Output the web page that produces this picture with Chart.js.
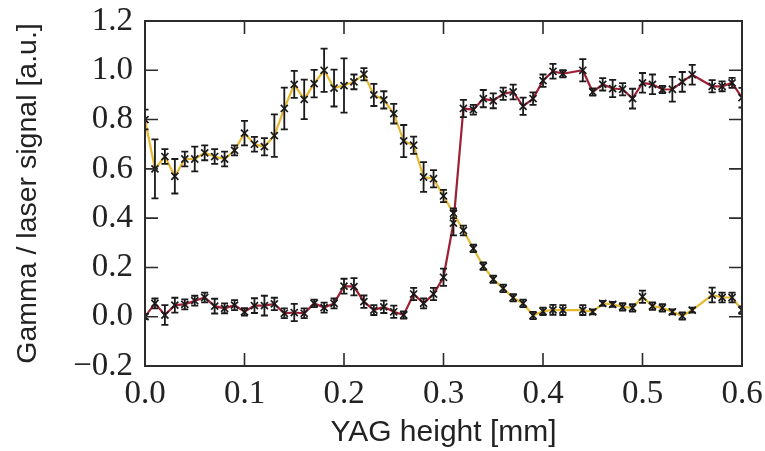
<!DOCTYPE html>
<html>
<head>
<meta charset="utf-8">
<script src="https://cdn.jsdelivr.net/npm/chart.js@4.4.1/dist/chart.umd.min.js"></script>
<style>
    html, body { margin: 0; padding: 0; background: #fff; }
    #chart { display: block; }
</style>
</head>
<body>
<canvas id="chart" width="765" height="451"></canvas>
<script>
// YAG height [mm] (0.43 and 0.56 are missing in the scan)
const heights = [
    0.00, 0.01, 0.02, 0.03, 0.04, 0.05, 0.06, 0.07, 0.08, 0.09,
    0.10, 0.11, 0.12, 0.13, 0.14, 0.15, 0.16, 0.17, 0.18, 0.19,
    0.20, 0.21, 0.22, 0.23, 0.24, 0.25, 0.26, 0.27, 0.28, 0.29,
    0.30, 0.31, 0.32, 0.33, 0.34, 0.35, 0.36, 0.37, 0.38, 0.39,
    0.40, 0.41, 0.42, 0.44, 0.45, 0.46, 0.47, 0.48, 0.49,
    0.50, 0.51, 0.52, 0.53, 0.54, 0.55, 0.57, 0.58, 0.59, 0.60
];

// yellow curve: falls off around 0.3 mm
const laserSignal = [
    0.80, 0.60, 0.65, 0.57, 0.64, 0.64, 0.665, 0.65, 0.64, 0.675,
    0.745, 0.70, 0.69, 0.735, 0.845, 0.943, 0.882, 0.946, 1.00, 0.928,
    0.938, 0.953, 0.984, 0.90, 0.88, 0.824, 0.713, 0.696, 0.567, 0.56,
    0.49, 0.42, 0.35, 0.277, 0.205, 0.152, 0.115, 0.077, 0.054, 0.005,
    0.022, 0.028, 0.027, 0.027, 0.02, 0.054, 0.05, 0.04, 0.036,
    0.081, 0.043, 0.036, 0.02, 0.003, 0.027, 0.088, 0.078, 0.078, 0.027
];
const laserError = [
    0.04, 0.12, 0.03, 0.07, 0.03, 0.05, 0.03, 0.03, 0.03, 0.02,
    0.05, 0.03, 0.035, 0.086, 0.085, 0.055, 0.08, 0.056, 0.088, 0.075,
    0.11, 0.03, 0.025, 0.045, 0.035, 0.04, 0.065, 0.035, 0.06, 0.035,
    0.025, 0.02, 0.02, 0.015, 0.015, 0.015, 0.015, 0.015, 0.015, 0.015,
    0.015, 0.02, 0.02, 0.02, 0.01, 0.01, 0.01, 0.015, 0.015,
    0.025, 0.015, 0.015, 0.01, 0.015, 0.01, 0.03, 0.02, 0.02, 0.015
];

// red curve: rises around 0.31 mm
const gammaSignal = [
    0.00, 0.054, 0.007, 0.047, 0.05, 0.065, 0.078, 0.043, 0.034, 0.047,
    0.02, 0.045, 0.045, 0.052, 0.014, 0.017, 0.014, 0.054, 0.037, 0.054,
    0.124, 0.122, 0.061, 0.027, 0.04, 0.02, 0.007, 0.092, 0.054, 0.092,
    0.16, 0.38, 0.845, 0.84, 0.885, 0.876, 0.905, 0.912, 0.854, 0.885,
    0.958, 0.996, 0.986, 1.00, 0.912, 0.943, 0.926, 0.923, 0.885,
    0.949, 0.943, 0.922, 0.923, 0.953, 0.982, 0.935, 0.935, 0.949, 0.889
];
const gammaError = [
    0.01, 0.02, 0.04, 0.03, 0.02, 0.02, 0.02, 0.03, 0.02, 0.02,
    0.015, 0.03, 0.04, 0.025, 0.02, 0.035, 0.02, 0.015, 0.02, 0.02,
    0.03, 0.035, 0.025, 0.02, 0.025, 0.025, 0.015, 0.025, 0.02, 0.025,
    0.035, 0.05, 0.035, 0.02, 0.035, 0.03, 0.025, 0.03, 0.035, 0.025,
    0.025, 0.03, 0.015, 0.045, 0.015, 0.025, 0.035, 0.025, 0.04,
    0.04, 0.04, 0.015, 0.05, 0.04, 0.04, 0.025, 0.02, 0.02, 0.04
];

const frameColor = '#2b2b2b';
const tickLen = 13;

function toPoints(ys) {
    return heights.map((h, i) => ({x: h, y: ys[i]}));
}

// vertical error bars with caps, placed through the y scale
const errorBars = {
    id: 'errorBars',
    afterDatasetsDraw(chart) {
        const ctx = chart.ctx;
        const area = chart.chartArea;
        const yScale = chart.scales.y;
        ctx.save();
        ctx.beginPath();
        ctx.rect(area.left, area.top, area.right - area.left, area.bottom - area.top);
        ctx.clip();
        ctx.strokeStyle = '#1a1a1a';
        ctx.lineWidth = 1.8;
        chart.data.datasets.forEach(function (ds, i) {
            const meta = chart.getDatasetMeta(i);
            meta.data.forEach(function (pt, j) {
                const v = ds.data[j].y;
                const e = ds.errors[j];
                const top = yScale.getPixelForValue(v + e);
                const bot = yScale.getPixelForValue(v - e);
                ctx.beginPath();
                ctx.moveTo(pt.x, top);
                ctx.lineTo(pt.x, bot);
                ctx.moveTo(pt.x - 3.5, top);
                ctx.lineTo(pt.x + 3.5, top);
                ctx.moveTo(pt.x - 3.5, bot);
                ctx.lineTo(pt.x + 3.5, bot);
                ctx.stroke();
            });
        });
        ctx.restore();
    }
};

// box around the axes with inward ticks on all four sides
const axesFrame = {
    id: 'axesFrame',
    afterDraw(chart) {
        const ctx = chart.ctx;
        const a = chart.chartArea;
        const xs = chart.scales.x;
        const ys = chart.scales.y;
        ctx.save();
        ctx.strokeStyle = frameColor;
        ctx.lineWidth = 1.6;
        ctx.beginPath();
        xs.ticks.forEach(function (t) {
            const px = xs.getPixelForValue(t.value);
            ctx.moveTo(px, a.bottom);
            ctx.lineTo(px, a.bottom - tickLen);
            ctx.moveTo(px, a.top);
            ctx.lineTo(px, a.top + tickLen);
        });
        ys.ticks.forEach(function (t) {
            const py = ys.getPixelForValue(t.value);
            ctx.moveTo(a.left, py);
            ctx.lineTo(a.left + tickLen, py);
            ctx.moveTo(a.right, py);
            ctx.lineTo(a.right - tickLen, py);
        });
        ctx.stroke();
        ctx.lineWidth = 2;
        ctx.strokeRect(a.left, a.top, a.right - a.left, a.bottom - a.top);
        ctx.restore();
    }
};

const tickFont = {family: "'Liberation Serif', 'DejaVu Serif', serif", size: 33};
const sansFamily = "'Liberation Sans', Arial, sans-serif";

const ctx = document.getElementById('chart').getContext('2d');
new Chart(ctx, {
    type: 'line',
    data: {
        datasets: [{
                label: 'laser',
                data: toPoints(laserSignal),
                errors: laserError,
                borderColor: '#e6b932',
                borderWidth: 2.2,
                pointStyle: 'crossRot',
                pointRadius: 5,
                pointBorderColor: '#1a1a1a',
                pointBorderWidth: 1.7,
                pointBackgroundColor: '#1a1a1a',
                tension: 0,
                clip: 0
            }, {
                label: 'gamma',
                data: toPoints(gammaSignal),
                errors: gammaError,
                borderColor: '#9d2034',
                borderWidth: 2.2,
                pointStyle: 'crossRot',
                pointRadius: 5,
                pointBorderColor: '#1a1a1a',
                pointBorderWidth: 1.7,
                pointBackgroundColor: '#1a1a1a',
                tension: 0,
                clip: 0
            }]
    },
    options: {
        responsive: false,
        devicePixelRatio: 1,
        animation: false,
        layout: {padding: {left: 0, right: 23, top: 21, bottom: 0}},
        plugins: {
            legend: {display: false},
            tooltip: {enabled: false}
        },
        scales: {
            x: {
                type: 'linear',
                min: 0,
                max: 0.6,
                grid: {display: false, drawTicks: false},
                border: {display: false},
                ticks: {
                    stepSize: 0.1,
                    padding: 9,
                    color: '#222',
                    maxRotation: 0,
                    font: tickFont,
                    callback: v => v.toFixed(1)
                },
                title: {
                    display: true,
                    text: 'YAG height [mm]',
                    color: '#222',
                    font: {family: sansFamily, size: 30},
                    padding: {top: 0, bottom: 0}
                },
                afterFit: function (scale) {
                    scale.height = 85;
                    scale.paddingLeft = 0;
                    scale.paddingRight = 0;
                }
            },
            y: {
                min: -0.2,
                max: 1.2,
                grid: {display: false, drawTicks: false},
                border: {display: false},
                ticks: {
                    stepSize: 0.2,
                    padding: 12,
                    color: '#222',
                    font: tickFont,
                    callback: v => (v < -1e-9 ? '\u2212' : '') + Math.abs(v).toFixed(1)
                },
                title: {
                    display: true,
                    text: 'Gamma / laser signal [a.u.]',
                    color: '#222',
                    font: {family: sansFamily, size: 28.5},
                    padding: {top: 11, bottom: 0}
                },
                afterFit: function (scale) {
                    scale.width = 145;
                    scale.paddingTop = 0;
                    scale.paddingBottom = 0;
                }
            }
        }
    },
    plugins: [errorBars, axesFrame]
});
</script>
</body>
</html>
